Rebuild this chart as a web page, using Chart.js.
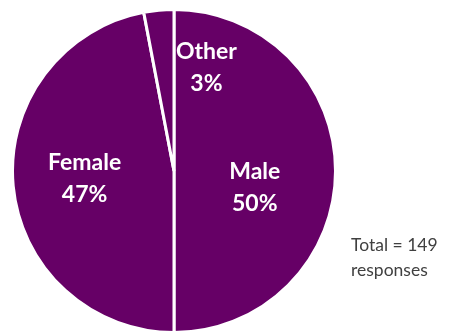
<!DOCTYPE html>
<html>
<head>
<meta charset="utf-8">
<script src="https://cdn.jsdelivr.net/npm/chart.js@4"></script>
<style>
  html, body { margin: 0; padding: 0; background: #fff; }
  #wrap { width: 450px; height: 331px; }
</style>
</head>
<body>
<div id="wrap"><canvas id="myChart" width="450" height="331"></canvas></div>
<script>
let categories = ["Male", "Female", "Other"];
let shares = [50, 47, 3];
let totalNote = ["Total = 149", "responses"];

let sliceColor = "#660066";

// label nudges from each slice's tooltip point, like the hand-placed ones in the picture
let labelNudge = [
  { dx: 0, dy: 17 },
  { dx: -9, dy: 0 },
  { dx: 40, dy: -23 },
];

let sliceLabels = {
  id: "sliceLabels",
  afterDatasetsDraw(chart) {
    let ctx = chart.ctx;
    let meta = chart.getDatasetMeta(0);
    let sum = shares.reduce((a, b) => a + b, 0);
    ctx.save();
    ctx.fillStyle = "#ffffff";
    ctx.font = "bold 23px Lato";
    ctx.textAlign = "center";
    ctx.textBaseline = "middle";
    meta.data.forEach((arc, i) => {
      let p = arc.tooltipPosition();
      let x = p.x + labelNudge[i].dx;
      let y = p.y + labelNudge[i].dy;
      let pct = Math.round((shares[i] / sum) * 100) + "%";
      ctx.fillText(categories[i], x, y - 16);
      ctx.fillText(pct, x, y + 16);
    });

    ctx.fillStyle = "#404040";
    ctx.font = "17.5px Lato";
    ctx.textAlign = "left";
    totalNote.forEach((line, i) => {
      ctx.fillText(line, 351, 245 + i * 25);
    });
    ctx.restore();
  },
};

let myChart = document.getElementById("myChart").getContext("2d");

let genderChart = new Chart(myChart, {
  type: "pie",
  data: {
    labels: categories,
    datasets: [
      {
        data: shares,
        backgroundColor: sliceColor,
        borderColor: "#ffffff",
        borderWidth: 3,
      },
    ],
  },
  options: {
    responsive: false,
    animation: false,
    radius: 161.5,
    layout: {
      padding: { left: 14, top: 11, right: 116, bottom: 0 },
    },
    plugins: {
      legend: { display: false },
      tooltip: { enabled: false },
    },
  },
  plugins: [sliceLabels],
});
</script>
</body>
</html>
